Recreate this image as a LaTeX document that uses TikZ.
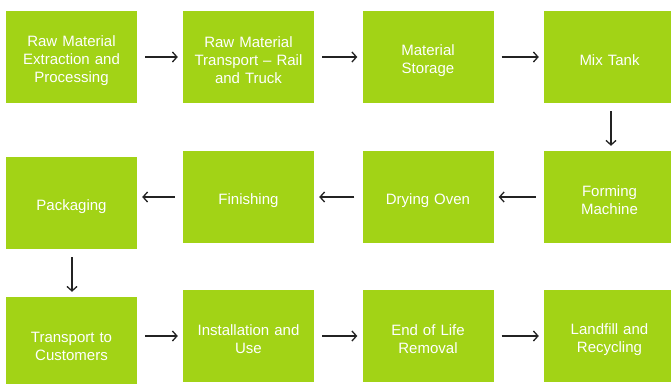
\documentclass[tikz,border=0pt]{standalone}
\usepackage{fontspec}
\setmainfont{Liberation Sans}
\usetikzlibrary{arrows.meta}
\definecolor{boxgreen}{RGB}{162,211,22}
\definecolor{arrowgrey}{RGB}{35,35,35}
\tikzset{
  stage/.style={fill=boxgreen, draw=none, minimum width=131pt, minimum height=92pt,
    text width=122pt, align=center, inner sep=0pt, text=white,
    font=\fontsize{15pt}{18pt}\selectfont,
    execute at begin node={\rule{0pt}{18pt}}},
  flow/.style={draw=arrowgrey, line width=1.3pt, -{Straight Barb[length=4.5pt,width=10pt]},
    shorten <=8pt, shorten >=5pt}
}
\begin{document}
\begin{tikzpicture}[x=1pt,y=-1pt]
\useasboundingbox (0,0) rectangle (671,383);
\clip (0,0) rectangle (671,383);
\node[stage] (raw) at (71.5,57) {Raw Material\\Extraction and\\Processing};
\node[stage] (trans1) at (248.5,57) {Raw Material\\Transport -- Rail\\and Truck};
\node[stage] (stor) at (428,57) {Material\\Storage};
\node[stage] (mix) at (609.5,57) {Mix Tank};
\node[stage] (pack) at (71.5,203) {Packaging};
\node[stage] (fin) at (248.5,197) {Finishing};
\node[stage] (dry) at (428,197) {Drying Oven};
\node[stage] (form) at (609.5,197) {Forming\\Machine};
\node[stage] (cust) at (71.5,343) {Transport to\\Customers};
\node[stage] (inst) at (248.5,336) {Installation and\\Use};
\node[stage] (end) at (428,336) {End of Life\\Removal};
\node[stage] (land) at (609.5,336) {Landfill and\\Recycling};
\draw[flow] (raw) -- (trans1);
\draw[flow] (trans1) -- (stor);
\draw[flow] (stor) -- (mix);
\draw[flow] (mix.south -| 611,0) -- (form.north -| 611,0);
\draw[flow] (form) -- (dry);
\draw[flow] (dry) -- (fin);
\draw[flow] (fin.west) -- (fin.west -| pack.east);
\draw[flow] (pack.south -| 72,0) -- (cust.north -| 72,0);
\draw[flow] (inst.west -| cust.east) -- (inst.west);
\draw[flow] (inst) -- (end);
\draw[flow] (end) -- (land);
\end{tikzpicture}
\end{document}
